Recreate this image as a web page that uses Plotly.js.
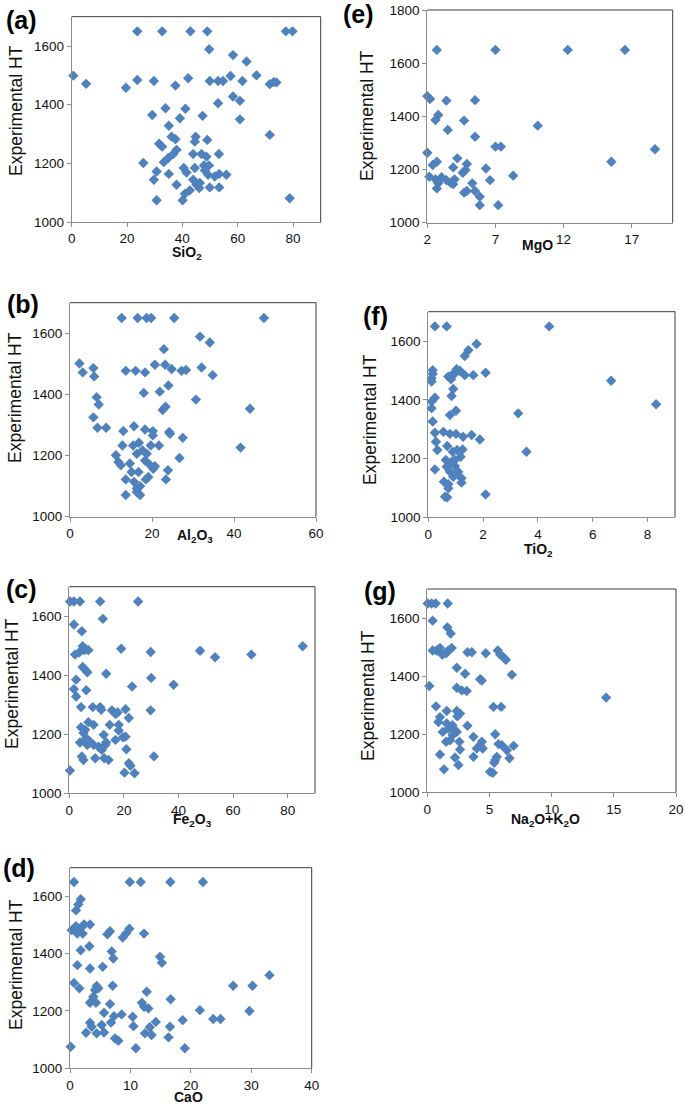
<!DOCTYPE html>
<html>
<head>
<meta charset="utf-8">
<script src="https://cdn.plot.ly/plotly-3.0.1.min.js"></script>
<style>html,body{margin:0;padding:0;background:#fff;}#chart{width:685px;height:1106px;}</style>
</head>
<body>
<div id="chart"></div>
<script>
// ---- Data ----
const yLabel = 'Experimental HT';

const sio2_x = [23.7,32.7,42.9,49.0,77.4,79.8,49.7,58.3,63.2,0.6,5.2,19.6,23.7,29.7,37.5,42.1,49.9,52.9,54.7,57.4,61.7,66.8,71.6,73.0,74.0,58.3,60.8,52.9,60.8,71.6,29.1,33.9,41.1,39.1,47.3,35.1,36.1,37.5,44.8,44.5,49.0,31.6,32.7,37.9,36.7,34.9,33.3,43.9,46.9,48.7,53.2,25.9,47.8,49.6,44.5,40.5,41.5,30.7,35.1,48.1,49.3,51.7,53.3,55.9,29.7,37.9,43.9,45.1,46.1,49.9,53.3,42.7,40.9,30.7,40.1,78.8,46.3];
const sio2_y = [1650,1650,1650,1650,1650,1650,1589,1569,1547,1499,1471,1458,1484,1481,1465,1490,1481,1481,1481,1498,1481,1500,1470,1477,1476,1428,1413,1405,1350,1297,1365,1388,1386,1354,1362,1328,1291,1282,1291,1274,1280,1267,1257,1246,1232,1218,1204,1232,1232,1223,1232,1201,1193,1193,1184,1184,1169,1172,1164,1176,1161,1155,1164,1161,1144,1127,1144,1127,1116,1118,1118,1108,1096,1074,1074,1081,1133];

const mgo_x = [2.7,7.0,12.3,16.5,2.0,2.2,3.4,5.5,2.8,2.6,4.7,3.5,5.5,10.1,7.0,7.4,2.0,18.7,15.5,2.7,2.4,4.2,3.9,4.9,4.8,4.6,6.3,2.15,2.6,3.05,3.4,3.7,4.0,3.9,2.8,2.7,5.3,6.6,8.3,4.7,4.9,5.5,5.85,5.85,7.2];
const mgo_y = [1650,1650,1650,1650,1476,1465,1459,1461,1405,1386,1384,1349,1323,1365,1286,1286,1263,1276,1229,1229,1217,1242,1208,1221,1198,1188,1204,1173,1163,1171,1160,1150,1163,1145,1148,1129,1148,1160,1177,1113,1119,1119,1098,1066,1066];

const al2o3_x = [12.6,16.5,18.7,19.8,25.4,47.3,31.7,34.1,22.9,2.3,3.1,5.7,5.9,13.6,16.0,18.3,20.7,23.2,24.8,27.2,28.3,32.1,34.8,18.0,21.9,24.0,30.7,43.9,22.6,23.3,6.5,7.0,5.7,6.7,8.8,13.0,15.6,18.3,20.2,20.2,24.2,24.4,27.5,16.8,12.8,15.4,19.7,21.7,26.7,41.6,11.2,11.8,12.4,14.6,16.3,17.7,18.7,18.3,19.4,20.3,20.7,15.0,16.7,23.9,13.6,15.6,16.3,17.1,18.5,19.1,23.4,13.6,17.1,16.3];
const al2o3_y = [1650,1650,1650,1650,1650,1650,1589,1570,1548,1501,1472,1486,1459,1477,1477,1472,1497,1497,1483,1477,1480,1488,1463,1405,1409,1429,1383,1353,1349,1360,1391,1367,1325,1291,1291,1280,1296,1285,1280,1266,1277,1271,1258,1242,1233,1233,1233,1233,1192,1226,1201,1179,1168,1174,1206,1217,1206,1184,1171,1157,1165,1146,1146,1152,1122,1114,1092,1100,1122,1130,1122,1071,1071,1081];

const tio2_x = [0.24,0.67,4.41,1.76,1.46,1.33,0.16,0.16,0.12,0.12,0.73,0.83,0.97,1.15,1.03,1.33,1.64,2.09,0.85,6.67,0.91,0.85,0.24,0.12,0.12,1.01,0.79,3.28,8.31,0.16,0.24,0.55,0.79,1.01,1.27,1.58,1.88,0.28,0.33,0.69,0.89,1.05,1.25,1.18,3.58,0.24,0.64,0.85,0.67,0.97,0.79,1.09,0.91,1.21,1.21,0.57,0.73,0.73,0.61,0.69,2.09,0.97];
const tio2_y = [1650,1650,1650,1590,1569,1549,1501,1488,1473,1462,1479,1470,1490,1499,1504,1484,1484,1492,1484,1465,1437,1413,1407,1394,1371,1363,1348,1354,1385,1326,1288,1291,1284,1284,1274,1280,1265,1257,1229,1243,1223,1229,1231,1206,1223,1163,1195,1189,1172,1175,1155,1155,1138,1133,1118,1121,1113,1099,1070,1068,1078,1195];

const fe2o3_x = [0.25,1.7,3.9,11.3,25.2,12.3,1.7,4.6,2.1,3.7,4.9,5.4,6.2,7.0,19.0,29.8,47.9,53.4,66.7,85.5,4.9,5.8,6.6,13.5,2.5,1.7,2.5,6.2,23.0,30.0,38.2,4.3,8.6,11.3,11.7,15.6,16.9,17.7,20.6,21.8,29.8,7.0,8.9,4.3,5.8,12.6,14.8,18.1,18.1,16.9,19.7,20.6,3.9,5.8,6.6,7.6,8.9,10.7,11.9,13.2,13.5,20.9,4.6,5.2,9.5,12.8,14.4,21.8,22.4,31.0,20.2,23.9,0.25,5.2,6.2];
const fe2o3_y = [1650,1650,1650,1650,1650,1591,1572,1549,1470,1478,1498,1485,1487,1485,1490,1479,1483,1461,1470,1498,1428,1419,1410,1405,1385,1353,1328,1349,1362,1391,1368,1292,1292,1292,1283,1281,1269,1274,1285,1255,1281,1241,1232,1224,1215,1198,1232,1232,1213,1181,1190,1192,1172,1175,1164,1175,1164,1158,1147,1164,1172,1149,1125,1113,1119,1119,1113,1102,1093,1125,1070,1068,1077,1204,1187];

const alk_x = [0.03,0.35,0.67,1.64,0.43,1.61,1.88,0.43,0.75,1.02,1.21,1.51,1.69,1.96,3.23,3.58,4.70,5.67,5.86,6.08,6.32,2.37,3.04,4.25,4.38,6.8,0.16,2.37,2.77,3.17,14.38,0.70,1.56,2.37,2.63,2.42,5.32,5.94,1.02,0.89,1.56,2.02,1.24,1.69,2.18,2.37,2.04,1.51,1.83,3.23,3.71,5.46,2.58,2.63,4.25,4.38,3.98,4.46,5.73,6.0,6.4,6.94,6.61,1.02,2.23,3.71,5.59,5.46,5.38,2.50,1.34,5.05,5.27];
const alk_y = [1650,1650,1650,1650,1591,1568,1547,1488,1488,1497,1474,1479,1488,1497,1482,1482,1479,1488,1474,1467,1456,1429,1408,1389,1385,1405,1366,1360,1351,1349,1326,1296,1280,1280,1271,1262,1294,1294,1259,1242,1237,1231,1208,1219,1216,1208,1197,1174,1179,1229,1191,1200,1174,1147,1162,1174,1151,1151,1166,1162,1145,1160,1117,1130,1120,1122,1122,1111,1102,1094,1079,1071,1067];

const cao_x = [0.66,9.9,11.7,16.6,22.0,1.77,1.38,0.99,0.28,0.99,1.38,1.93,2.32,1.21,2.1,3.31,6.62,6.18,8.72,9.27,9.82,12.25,3.2,1.77,6.9,7.17,14.9,15.2,1.21,3.31,5.41,33.0,27.0,30.2,0.66,1.55,4.14,4.69,4.41,7.06,12.7,3.31,4.3,6.62,3.86,11.9,12.25,12.97,16.66,21.5,5.63,7.28,8.55,10.37,29.7,18.65,23.7,24.9,3.31,3.59,5.24,6.79,10.5,14.2,16.55,2.65,4.41,5.63,12.4,13.2,13.5,7.45,8.0,16.3,0.11,10.9,19.0];
const cao_y = [1650,1650,1650,1650,1650,1590,1572,1551,1482,1496,1482,1493,1502,1470,1470,1502,1478,1468,1456,1470,1487,1470,1426,1412,1408,1383,1389,1368,1360,1348,1354,1325,1288,1288,1298,1279,1273,1279,1287,1288,1267,1229,1229,1224,1250,1229,1215,1209,1241,1203,1194,1182,1188,1180,1200,1168,1172,1172,1159,1145,1151,1160,1147,1162,1145,1124,1122,1125,1122,1143,1116,1104,1096,1108,1075,1070,1070];

const panelLetters = ['(a)','(e)','(b)','(f)','(c)','(g)','(d)'];
const xTitles = ['SiO<sub>2</sub>','MgO','Al<sub>2</sub>O<sub>3</sub>','TiO<sub>2</sub>','Fe<sub>2</sub>O<sub>3</sub>','Na<sub>2</sub>O+K<sub>2</sub>O','CaO'];
const xRanges = [[0,90],[2,20],[0,60],[0,9],[0,90],[0,20],[0,40]];
const xSteps = [20,5,20,2,20,5,10];
const yRanges = [[1000,1700],[1000,1800],[1000,1700],[1000,1700],[1000,1700],[1000,1700],[1000,1700]];
const seriesX = [sio2_x, mgo_x, al2o3_x, tio2_x, fe2o3_x, alk_x, cao_x];
const seriesY = [sio2_y, mgo_y, al2o3_y, tio2_y, fe2o3_y, alk_y, cao_y];

// ---- Layout geometry (pixels) ----
const W = 685, H = 1106;
const boxes = [
  {l:71.7, r:320.7, t:16.7, b:222,  lab:[21,20],   yt:[16,111],  xt:[187,253]},
  {l:427.3,r:672.7, t:10,   b:222.7,lab:[358,14],  yt:[367,116], xt:[537,245]},
  {l:70,   r:316,   t:302.7,b:516.7,lab:[23,304],  yt:[15,398],  xt:[195,536]},
  {l:428.3,r:675,   t:311.7,b:517.3,lab:[375,316], yt:[370,420], xt:[538,550]},
  {l:69.3, r:315,   t:586.7,b:793.3,lab:[21,589],  yt:[12,684],  xt:[192,820]},
  {l:427.3,r:676,   t:589,  b:792.3,lab:[380,591], yt:[368,696], xt:[545,820]},
  {l:70,   r:311.7, t:867.7,b:1068.3,lab:[19,868], yt:[16,965],  xt:[188,1097]}
];
const px = v => v / W;
const py = v => (H - v) / H;
const FONT = 'Liberation Sans, Arial, sans-serif';

const traces = [];
const layout = {
  width: W, height: H,
  margin: {l:0, r:0, t:0, b:0},
  paper_bgcolor: '#fff', plot_bgcolor: '#fff',
  showlegend: false,
  annotations: [], shapes: []
};

boxes.forEach((bx, i) => {
  const n = i === 0 ? '' : String(i + 1);
  const xa = 'x' + n, ya = 'y' + n;
  traces.push({
    type: 'scatter', mode: 'markers',
    x: seriesX[i], y: seriesY[i],
    xaxis: xa, yaxis: ya,
    cliponaxis: false,
    marker: {symbol: 'diamond', size: 8, color: '#4F81BD', line: {width: 0}},
    hoverinfo: 'x+y'
  });
  const common = {
    showgrid: false, zeroline: false, showline: true,
    linecolor: '#8c8c8c', linewidth: 1,
    ticks: 'outside', ticklen: 4, tickcolor: '#8c8c8c',
    tickfont: {family: FONT, size: 13.5, color: '#111'},
    tickmode: 'linear', fixedrange: true
  };
  layout['xaxis' + n] = Object.assign({}, common, {
    domain: [px(bx.l), px(bx.r)], range: xRanges[i],
    tick0: xRanges[i][0], dtick: xSteps[i], anchor: ya
  });
  layout['yaxis' + n] = Object.assign({}, common, {
    domain: [py(bx.b), py(bx.t)], range: yRanges[i],
    tick0: 1000, dtick: 200, anchor: xa
  });
  // top + right border
  layout.shapes.push({
    type: 'path', xref: 'paper', yref: 'paper',
    path: `M ${px(bx.l)},${py(bx.t)} L ${px(bx.r)},${py(bx.t)} L ${px(bx.r)},${py(bx.b)}`,
    line: {color: '#3a3a3a', width: 1}
  });
  // panel letter
  layout.annotations.push({
    xref: 'paper', yref: 'paper', x: px(bx.lab[0]), y: py(bx.lab[1]),
    xanchor: 'center', yanchor: 'middle', showarrow: false,
    text: '<b>' + panelLetters[i] + '</b>',
    font: {family: FONT, size: 25, color: '#000'}
  });
  // y title
  layout.annotations.push({
    xref: 'paper', yref: 'paper', x: px(bx.yt[0]), y: py(bx.yt[1]),
    xanchor: 'center', yanchor: 'middle', showarrow: false, textangle: -90,
    text: yLabel,
    font: {family: FONT, size: 17.5, color: '#111'}
  });
  // x title
  layout.annotations.push({
    xref: 'paper', yref: 'paper', x: px(bx.xt[0]), y: py(bx.xt[1]),
    xanchor: 'center', yanchor: 'middle', showarrow: false,
    text: '<b>' + xTitles[i] + '</b>',
    font: {family: FONT, size: 14, color: '#111'}
  });
});

Plotly.newPlot('chart', traces, layout, {staticPlot: true, displayModeBar: false});
</script>
</body>
</html>
